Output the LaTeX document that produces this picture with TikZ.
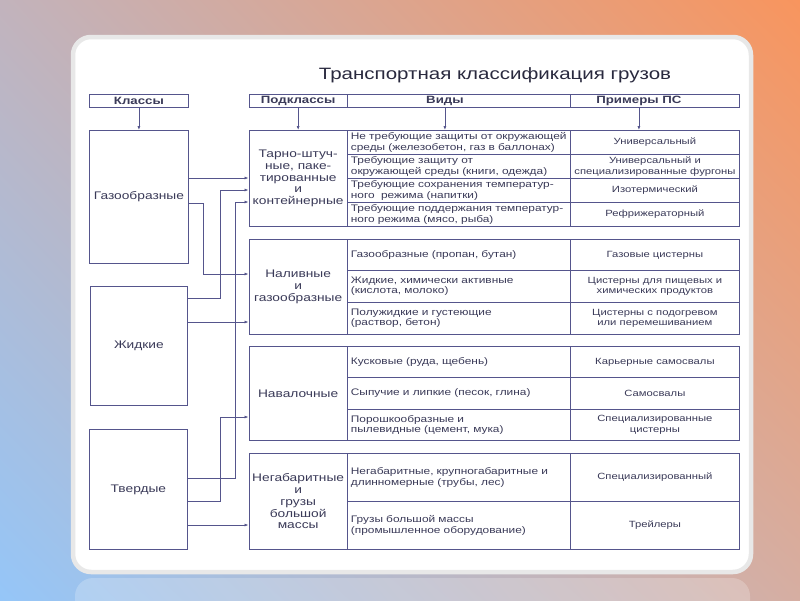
\documentclass[tikz,border=0pt]{standalone}
\usepackage{fontspec}
\setmainfont{Liberation Sans}[FakeStretch=1.25]
\usetikzlibrary{arrows.meta,positioning,calc,shadings}
\definecolor{ln}{HTML}{55558C}
\definecolor{tx}{HTML}{3A3A58}
\definecolor{bgTL}{HTML}{C2B3BC}
\definecolor{bgTR}{HTML}{F8955E}
\definecolor{bgBL}{HTML}{95C6F8}
\definecolor{bgBR}{HTML}{D6AEA2}

\begin{document}
\begin{tikzpicture}[x=1pt, y=-1pt, >={Latex[length=4pt,width=3pt]},
  box/.style={draw=ln, line width=0.8pt, inner sep=0pt, text=tx, anchor=north west},
  hdr/.style={box, minimum height=13pt, font=\fontsize{10.6}{11}\selectfont\bfseries},
  cls/.style={box, font=\fontsize{11}{12}\selectfont},
  sub/.style={box, minimum width=98.5pt, align=center, font=\fontsize{11}{11.8}\selectfont},
  kind/.style={box, text width=216pt, inner xsep=3.5pt, align=left, font=\fontsize{9.5}{10.5}\selectfont},
  ex/.style={box, minimum width=169pt, align=center, font=\fontsize{9}{10.5}\selectfont},
  link/.style={draw=ln, line width=0.7pt, ->}]
  \useasboundingbox (0,0) rectangle (800,600);
  % background and card
  \shade[upper left=bgTL, upper right=bgTR, lower left=bgBL, lower right=bgBR] (0,0) rectangle (800,600);
  \fill[white, opacity=0.22, rounded corners=18pt] (75,578) rectangle (750,630);
  \draw[draw=black!9, line width=4.5pt, fill=white, rounded corners=18pt] (73,37) rectangle (751,572);

  \node[text=tx!70!black, font=\fontsize{16.4}{17}\selectfont] (title) at (495,75) {Транспортная классификация грузов};

  % headers
  \node[hdr, minimum width=99pt] (hk) at (89,94) {Классы};
  \node[hdr, minimum width=98.5pt] (hs) at (248.5,94) {Подклассы};
  \node[hdr, minimum width=223pt] (hv) at (347,94) {\hspace*{-28pt}Виды};
  \node[hdr, minimum width=169pt] (hp) at (570,94) {\hspace*{-32pt}Примеры ПС};

  % classes
  \node[cls, minimum width=99pt, minimum height=133pt] (gas) at (89,130) {Газообразные};
  \node[cls, minimum width=97pt, minimum height=119pt] (liq) at (90,286) {Жидкие};
  \node[cls, minimum width=98pt, minimum height=120pt] (sol) at (89,429) {Твердые};

  % subclasses
  \node[sub, minimum height=96pt] (s1) at (248.5,130) {Тарно-штуч-\\ные, паке-\\тированные\\и\\контейнерные};
  \node[sub, minimum height=95pt] (s2) at (248.5,239) {Наливные\\и\\газообразные};
  \node[sub, minimum height=94pt] (s3) at (248.5,346) {Навалочные};
  \node[sub, minimum height=96pt] (s4) at (248.5,453) {Негабаритные\\и\\грузы\\большой\\массы};

  % kinds and examples
  \node[kind, minimum height=24pt] (k11) at (347,130) {Не требующие защиты от окружающей\\среды (железобетон, газ в баллонах)};
  \node[ex, minimum height=24pt] (e11) at (570,130) {Универсальный};
  \node[kind, minimum height=24pt] (k12) at (347,154) {Требующие защиту от\\окружающей среды (книги, одежда)};
  \node[ex, minimum height=24pt] (e12) at (570,154) {Универсальный и\\специализированные фургоны};
  \node[kind, minimum height=24pt] (k13) at (347,178) {Требующие сохранения температур-\\ного\ \ режима (напитки)};
  \node[ex, minimum height=24pt] (e13) at (570,178) {Изотермический};
  \node[kind, minimum height=24pt] (k14) at (347,202) {Требующие поддержания температур-\\ного режима (мясо, рыба)};
  \node[ex, minimum height=24pt] (e14) at (570,202) {Рефрижераторный};

  \node[kind, minimum height=31pt] (k21) at (347,239) {Газообразные (пропан, бутан)};
  \node[ex, minimum height=31pt] (e21) at (570,239) {Газовые цистерны};
  \node[kind, minimum height=32pt] (k22) at (347,270) {Жидкие, химически активные\\(кислота, молоко)};
  \node[ex, minimum height=32pt] (e22) at (570,270) {Цистерны для пищевых и\\химических продуктов};
  \node[kind, minimum height=32pt] (k23) at (347,302) {Полужидкие и густеющие\\(раствор, бетон)};
  \node[ex, minimum height=32pt] (e23) at (570,302) {Цистерны с подогревом\\или перемешиванием};

  \node[kind, minimum height=31pt] (k31) at (347,346) {Кусковые (руда, щебень)};
  \node[ex, minimum height=31pt] (e31) at (570,346) {Карьерные самосвалы};
  \node[kind, minimum height=32pt] (k32) at (347,377) {Сыпучие и липкие (песок, глина)};
  \node[ex, minimum height=32pt] (e32) at (570,377) {Самосвалы};
  \node[kind, minimum height=31pt] (k33) at (347,409) {Порошкообразные и\\пылевидные (цемент, мука)};
  \node[ex, minimum height=31pt] (e33) at (570,409) {Специализированные\\цистерны};

  \node[kind, minimum height=48pt] (k41) at (347,453) {Негабаритные, крупногабаритные и\\длинномерные (трубы, лес)};
  \node[ex, minimum height=48pt] (e41) at (570,453) {Специализированный};
  \node[kind, minimum height=48pt] (k42) at (347,501) {Грузы большой массы\\(промышленное оборудование)};
  \node[ex, minimum height=48pt] (e42) at (570,501) {Трейлеры};

  % header arrows
  \draw[link] (hk) -- (gas);
  \draw[link] (hs) -- (s1);
  \draw[link] ([xshift=-14pt]hv.south) -- ([xshift=-14pt]k11.north);
  \draw[link] ([xshift=-16pt]hp.south) -- ([xshift=-16pt]e11.north);

  % class to subclass links
  \draw[link] ([yshift=-48pt]gas.north east) -- ([yshift=-48pt]s1.north west);
  \draw[link] ([yshift=-73pt]gas.north east) -- ++(15,0) |- ([yshift=-35pt]s2.north west);
  \draw[link] ([yshift=-12pt]liq.north east) -- ++(33,0) |- ([yshift=-60pt]s1.north west);
  \draw[link] ([yshift=-36pt]liq.north east) -- ([yshift=-83pt]s2.north west);
  \draw[link] ([yshift=-49pt]sol.north east) -- ++(48,0) |- ([yshift=-72pt]s1.north west);
  \draw[link] ([yshift=-72pt]sol.north east) -- ++(33,0) |- ([yshift=-71pt]s3.north west);
  \draw[link] ([yshift=-96pt]sol.north east) -- ([yshift=-72pt]s4.north west);
\end{tikzpicture}
\end{document}
